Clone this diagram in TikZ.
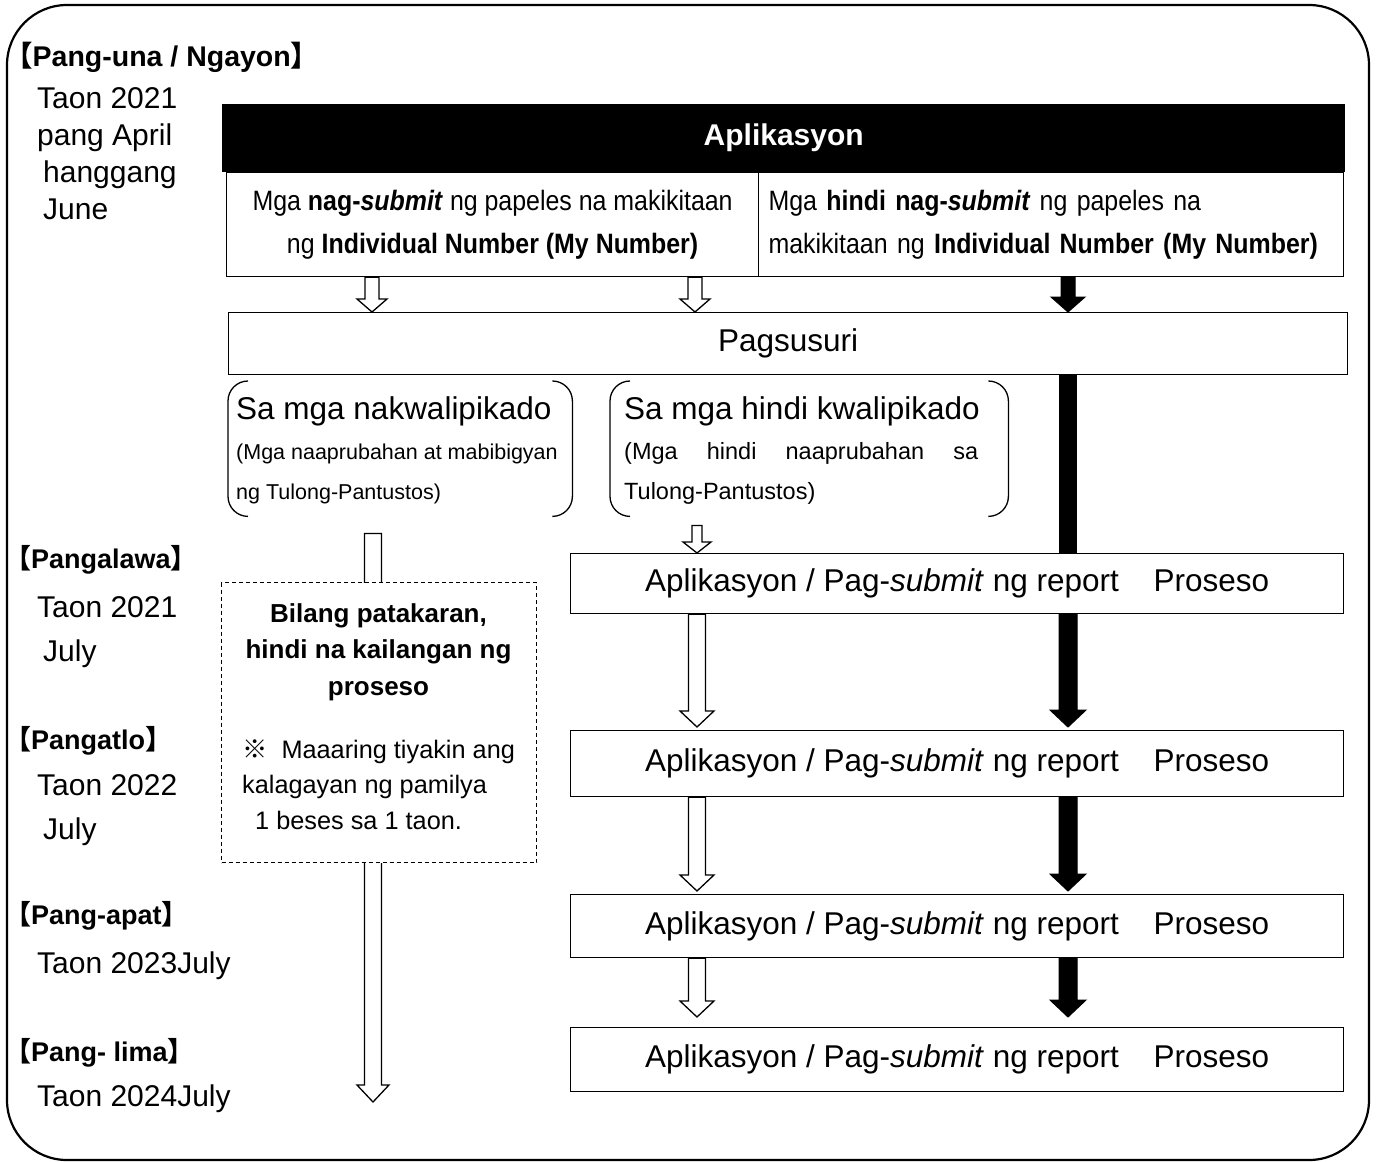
\documentclass[tikz,border=0pt]{standalone}
\usepackage{fontspec}
\setmainfont{Liberation Sans}
\newfontfamily\narrowfont[FakeStretch=0.89]{Liberation Sans}
\newfontfamily\cjkfont{Noto Sans CJK JP}
\usetikzlibrary{calc}
\newcommand{\brk}[1]{{\cjkfont 【}#1{\cjkfont 】}}
\newcommand{\reporttext}{Aplikasyon / Pag-\textit{submit} ng report\hspace{1.1em}Proseso}
\newcommand{\blockarrow}[6][hollowarrow]{%
  \draw[#1] let \p1=#2, \p2=#3 in
    (\x1-#4pt,\y1) -- (\x1-#4pt,\y2+#6pt) -- (\x1-#5pt,\y2+#6pt) -- (\x1,\y2)
    -- (\x1+#5pt,\y2+#6pt) -- (\x1+#4pt,\y2+#6pt) -- (\x1+#4pt,\y1) -- cycle;}
\tikzset{
    frame/.style = {draw, line width=2.2pt, rounded corners=60pt},
    header/.style = {fill=black, text=white, inner sep=0pt, font=\fontsize{30}{34}\selectfont\bfseries},
    cell/.style = {draw, line width=1.2pt, inner sep=0pt, font=\narrowfont\fontsize{28}{43}\selectfont},
    plainbox/.style = {draw, line width=1.2pt, inner sep=0pt, font=\fontsize{31.5}{36}\selectfont},
    procbox/.style = {plainbox, minimum width=773pt, anchor=north west},
    paren/.style = {line width=1.3pt, rounded corners=20pt},
    period/.style = {anchor=base west, inner sep=0pt, font=\fontsize{27}{30}\selectfont\bfseries},
    datetext/.style = {anchor=base west, inner sep=0pt, align=left, font=\fontsize{30}{37}\selectfont},
    bigtext/.style = {anchor=base west, inner sep=0pt, font=\fontsize{31.5}{36}\selectfont},
    note/.style = {draw, fill=white, line width=1.1pt, dash pattern=on 4pt off 3pt, inner sep=0pt, anchor=north west},
    hollowarrow/.style = {draw, fill=white, line width=1.3pt},
    solidarrow/.style = {draw, fill=black, line width=1pt},
}
\begin{document}
\begin{tikzpicture}[x=1pt, y=-1pt]
\useasboundingbox (0,0) rectangle (1377,1162);
\draw[frame] (7,5) rectangle (1369,1160);

\node[period, font=\fontsize{28.5}{30}\selectfont\bfseries] (per1) at (4,66) {\brk{Pang-una / Ngayon}};
\node[datetext] (date1) at (37,219) {Taon 2021\\pang April\\\hspace*{6pt}hanggang\\\hspace*{6pt}June};
\node[period] (per2) at (4,568) {\brk{Pangalawa}};
\node[datetext] (date2) at (37,661) {Taon 2021\\[7pt]\hspace*{6pt}July};
\node[period] (per3) at (4,749) {\brk{Pangatlo}};
\node[datetext] (date3) at (37,839) {Taon 2022\\[7pt]\hspace*{6pt}July};
\node[period] (per4) at (4,924) {\brk{Pang-apat}};
\node[datetext] (date4) at (37,973) {Taon 2023July};
\node[period] (per5) at (4,1061) {\brk{Pang- lima}};
\node[datetext] (date5) at (37,1106) {Taon 2024July};

\node[header, minimum width=1123pt, minimum height=68pt, anchor=north west] (hdr) at (222,104) {Aplikasyon};
\node[cell, minimum width=532pt, minimum height=104pt, align=center, anchor=north west] (cellL) at (226,172)
    {Mga \textbf{nag-\textit{submit}} ng papeles na makikitaan\\ng \textbf{Individual Number (My Number)}};
\node[cell, minimum height=104pt, text width=565pt, inner xsep=10pt, align=left, anchor=north west] (cellR) at (758,172)
    {Mga \textbf{hindi nag-\textit{submit}} ng papeles na\\makikitaan ng \textbf{Individual Number (My Number)}};
\node[plainbox, minimum width=1119pt, minimum height=62pt, anchor=north west] (review) at (228,312) {Pagsusuri};

\node[inner sep=0pt, minimum width=344pt, minimum height=135pt, anchor=north west] (qualA) at (228,381) {};
\node[inner sep=0pt, minimum width=398pt, minimum height=135pt, anchor=north west] (qualB) at (610,381) {};
\foreach \q in {qualA,qualB} {
  \draw[paren] ([xshift=20pt]\q.north west) -- (\q.north west) -- (\q.south west) -- ([xshift=20pt]\q.south west);
  \draw[paren] ([xshift=-20pt]\q.north east) -- (\q.north east) -- (\q.south east) -- ([xshift=-20pt]\q.south east);
}
\node[bigtext] (qualAhead) at (236,419) {Sa mga nakwalipikado};
\node[anchor=base west, inner sep=0pt, align=left, font=\fontsize{21.5}{40}\selectfont] (qualAsub) at (236,499)
    {(Mga naaprubahan at mabibigyan\\ng Tulong-Pantustos)};
\node[bigtext] (qualBhead) at (624,419) {Sa mga hindi kwalipikado};
\node[anchor=base west, inner sep=0pt, align=left, font=\fontsize{23.5}{40}\selectfont] (qualBsub) at (624,499)
    {\makebox[354pt][s]{(Mga hindi naaprubahan sa}\\Tulong-Pantustos)};

\node[procbox, minimum height=60pt] (proc1) at (570,553) {\reporttext};
\node[procbox, minimum height=66pt] (proc2) at (570,730) {\reporttext};
\node[procbox, minimum height=63pt] (proc3) at (570,894) {\reporttext};
\node[procbox, minimum height=64pt] (proc4) at (570,1027) {\reporttext};

\coordinate (colA) at (373,0);
\coordinate (colB) at (697,0);
\coordinate (colC) at (1068,0);
\coordinate (tipA) at (373,1102);

\blockarrow{([xshift=-1pt]colA |- cellL.south)}{([xshift=-1pt]colA |- review.north)}{7}{15}{13}
\blockarrow{([xshift=-2pt]colB |- cellL.south)}{([xshift=-2pt]colB |- review.north)}{7}{15}{13}
\blockarrow[solidarrow]{(colC |- cellR.south)}{(colC |- review.north)}{7}{17}{15}
\fill let \p1=(colC |- review.south), \p2=(colC |- proc1.north) in (\x1-9pt,\y1) rectangle (\x1+9pt,\y2);

\blockarrow{($(colA |- qualA.south)+(0,17)$)}{(tipA)}{8.5}{16}{17}
\blockarrow{($(colB |- qualB.south)+(0,9)$)}{(colB |- proc1.north)}{5}{14}{11}
\blockarrow{(colB |- proc1.south)}{($(colB |- proc2.north)+(0,-3)$)}{8.5}{17}{16}
\blockarrow{(colB |- proc2.south)}{($(colB |- proc3.north)+(0,-3)$)}{8.5}{17}{16}
\blockarrow{(colB |- proc3.south)}{($(colB |- proc4.north)+(0,-10)$)}{8.5}{17}{16}
\blockarrow[solidarrow]{(colC |- proc1.south)}{($(colC |- proc2.north)+(0,-3)$)}{9}{18}{17}
\blockarrow[solidarrow]{(colC |- proc2.south)}{($(colC |- proc3.north)+(0,-3)$)}{9}{18}{17}
\blockarrow[solidarrow]{(colC |- proc3.south)}{($(colC |- proc4.north)+(0,-10)$)}{9}{18}{17}

\node[note, minimum width=315pt, minimum height=280pt] (note) at (221,582) {};
\node[anchor=base, inner sep=0pt, align=center, font=\fontsize{26}{36.5}\selectfont\bfseries] (noteHead) at (378.5,695)
    {Bilang patakaran,\\hindi na kailangan ng\\proseso};
\node[anchor=base west, inner sep=0pt, align=left, font=\fontsize{25.3}{35.5}\selectfont] (noteBody) at (242,829)
    {{\cjkfont ※}\hspace{14pt}Maaaring tiyakin ang\\kalagayan ng pamilya\\\hspace*{13pt}1 beses sa 1 taon.};
\end{tikzpicture}
\end{document}
